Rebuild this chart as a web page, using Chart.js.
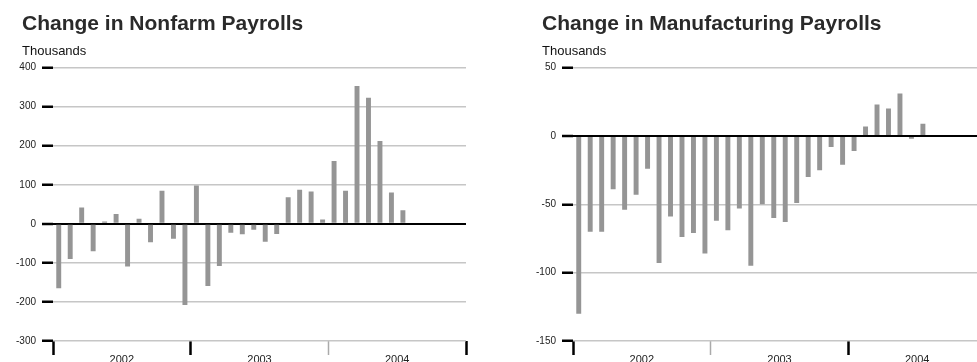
<!DOCTYPE html>
<html><head><meta charset="utf-8">
<script src="https://cdn.jsdelivr.net/npm/chart.js@4/dist/chart.umd.min.js"></script>
<style>
html,body{margin:0;padding:0;background:#fff;overflow:hidden;width:977px;height:362px;position:relative;}
canvas{position:absolute;top:0;}
#c1{left:0;}
#c2{left:520px;}
</style></head><body>
<canvas id="c1" width="480" height="362"></canvas>
<canvas id="c2" width="480" height="362"></canvas>
<script>
// ---- data ----
const years = ['2002', '2003', '2004'];
const months = ['Jan','Feb','Mar','Apr','May','Jun','Jul','Aug','Sep','Oct','Nov','Dec'];
const categories = years.flatMap(y => months.map(m => m + ' ' + y));

const nonfarmTitle = 'Change in Nonfarm Payrolls';
const nonfarmValues = [
  -165, -90, 42, -70, 6, 25, -109, 13, -47, 85, -38, -208,
  98, -159, -108, -23, -27, -15, -46, -26, 68, 87, 83, 11,
  161, 85, 353, 323, 212, 80, 35
];
const nonfarmYTicks = [400, 300, 200, 100, 0, -100, -200, -300];

const manufTitle = 'Change in Manufacturing Payrolls';
const manufValues = [
  -130, -70, -70, -39, -54, -43, -24, -93, -59, -74, -71, -86,
  -62, -69, -53, -95, -50, -60, -63, -49, -30, -25, -8, -21,
  -11, 7, 23, 20, 31, -2, 9
];
const manufYTicks = [50, 0, -50, -100, -150];

const unitLabel = 'Thousands';

// ---- drawing ----
const FONT = '"Liberation Sans", Arial, Helvetica, sans-serif';
const yearPositions = [0, 6, 12, 18, 24, 30, 36];

function makeChart(id, title, values, yTicks, yearTickColors) {
  const yMin = Math.min(...yTicks), yMax = Math.max(...yTicks);
  return new Chart(document.getElementById(id), {
    type: 'bar',
    data: {
      labels: categories,
      datasets: [{
        data: values,
        backgroundColor: '#959595',
        borderWidth: 0,
        barPercentage: 0.43,
        categoryPercentage: 1
      }]
    },
    options: {
      responsive: false,
      animation: false,
      devicePixelRatio: 1,
      layout: { padding: { left: 22, right: 14, top: 0, bottom: 0 } },
      plugins: {
        legend: { display: false },
        tooltip: { enabled: false },
        title: {
          display: true, text: title, align: 'start', color: '#2a2a2a',
          font: { family: FONT, size: 21, weight: 'bold', lineHeight: 1.2 },
          padding: { top: 11.5, bottom: 4 }
        },
        subtitle: {
          display: true, text: unitLabel, align: 'start', color: '#111',
          font: { family: FONT, size: 13, lineHeight: 1.2 },
          padding: { top: 3.3, bottom: 8 }
        }
      },
      scales: {
        x: { type: 'category', display: false, offset: true },
        yr: {
          type: 'linear', position: 'bottom', min: 0, max: 36,
          offset: false,
          afterBuildTicks: s => { s.ticks = yearPositions.map(v => ({ value: v })); },
          afterFit: s => { s.height = 21; },
          border: { display: false },
          grid: {
            offset: false,
            drawOnChartArea: false,
            tickLength: 14,
            tickWidth: ctx => (ctx.tick && ctx.tick.value % 12 === 0 && yearTickColors[ctx.tick.value / 12] !== '#000') ? 1.5 : 2.5,
            tickColor: ctx => {
              if (!ctx.tick) return 'rgba(0,0,0,0)';
              const v = ctx.tick.value;
              return v % 12 === 0 ? yearTickColors[v / 12] : 'rgba(0,0,0,0)';
            }
          },
          ticks: {
            autoSkip: false, maxRotation: 0, padding: -2, color: '#222',
            font: { family: FONT, size: 11 },
            callback: v => (v % 12 === 6 ? years[(v - 6) / 12] : '')
          }
        },
        y: {
          min: yMin, max: yMax,
          afterBuildTicks: s => { s.ticks = yTicks.map(v => ({ value: v })); },
          afterFit: s => { s.width = 31; s._computeLabelArea = () => undefined; },
          border: { display: false },
          grid: {
            color: ctx => (ctx.tick && ctx.tick.value === 0) ? '#000' : '#c6c6c6',
            lineWidth: ctx => (ctx.tick && ctx.tick.value === 0) ? 2 : 1.5,
            tickColor: '#000', tickWidth: 2.5, tickLength: 11
          },
          ticks: { padding: 6, color: '#222', font: { family: FONT, size: 10 } }
        }
      }
    }
  });
}

makeChart('c1', nonfarmTitle, nonfarmValues, nonfarmYTicks, ['#000', '#000', '#aaa', '#000']);
makeChart('c2', manufTitle, manufValues, manufYTicks, ['#000', '#aaa', '#000', '#000']);
</script>
</body></html>
